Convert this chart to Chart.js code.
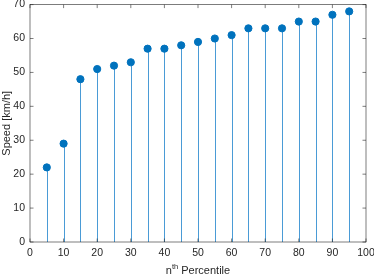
<!DOCTYPE html>
<html>
<head>
<meta charset="utf-8">
<script src="https://cdn.jsdelivr.net/npm/chart.js@4"></script>
<style>
  html, body { margin: 0; padding: 0; background: #fff; }
  #wrap { width: 374px; height: 275px; }
</style>
</head>
<body>
<div id="wrap"><canvas id="stem-chart"></canvas></div>
<script>
const percentiles = [5, 10, 15, 20, 25, 30, 35, 40, 45, 50,
    55, 60, 65, 70, 75, 80, 85, 90, 95];
const speeds = [22, 29, 48, 51, 52, 53, 57, 57, 58, 59,
    60, 61, 63, 63, 63, 65, 65, 67, 68];
const xTicks = [0, 10, 20, 30, 40, 50, 60, 70, 80, 90, 100];
const yTicks = [0, 10, 20, 30, 40, 50, 60, 70];

const blue = '#0072BD';
const stemColor = '#4a9bd6';
const axisColor = '#262626';
const fontFamily = '"Liberation Sans", Arial, Helvetica, sans-serif';

// stems, box and inward ticks (matlab look)
const stemPlot = {
    id: 'stemPlot',
    beforeDatasetsDraw(chart) {
        const ctx = chart.ctx;
        const xs = chart.scales.x, ys = chart.scales.y;
        ctx.save();
        ctx.strokeStyle = stemColor;
        ctx.lineWidth = 1;
        percentiles.forEach((p, i) => {
            const px = Math.round(xs.getPixelForValue(p)) + 0.5;
            ctx.beginPath();
            ctx.moveTo(px, ys.getPixelForValue(0));
            ctx.lineTo(px, ys.getPixelForValue(speeds[i]));
            ctx.stroke();
        });
        ctx.restore();
    },
    afterDraw(chart) {
        const ctx = chart.ctx;
        const a = chart.chartArea;
        const xs = chart.scales.x, ys = chart.scales.y;
        const t = 3.5;
        ctx.save();
        ctx.strokeStyle = axisColor;
        ctx.lineWidth = 0.6;
        ctx.strokeRect(a.left, a.top, a.right - a.left, a.bottom - a.top);
        ctx.beginPath();
        xTicks.forEach(v => {
            const px = xs.getPixelForValue(v);
            ctx.moveTo(px, a.bottom); ctx.lineTo(px, a.bottom - t);
            ctx.moveTo(px, a.top); ctx.lineTo(px, a.top + t);
        });
        yTicks.forEach(v => {
            const py = ys.getPixelForValue(v);
            ctx.moveTo(a.left, py); ctx.lineTo(a.left + t, py);
            ctx.moveTo(a.right, py); ctx.lineTo(a.right - t, py);
        });
        ctx.stroke();

        // x title with superscript
        ctx.fillStyle = axisColor;
        ctx.textBaseline = 'alphabetic';
        ctx.font = '11px ' + fontFamily;
        const main1 = 'n', main2 = ' Percentile';
        const w1 = ctx.measureText(main1).width;
        const w3 = ctx.measureText(main2).width;
        ctx.font = '7.5px ' + fontFamily;
        const sup = 'th';
        const w2 = ctx.measureText(sup).width;
        const total = w1 + w2 + w3;
        const cx = (a.left + a.right) / 2;
        let x0 = cx - total / 2;
        const base = 274;
        ctx.font = '11px ' + fontFamily;
        ctx.fillText(main1, x0, base);
        ctx.font = '7.5px ' + fontFamily;
        ctx.fillText(sup, x0 + w1, base - 5);
        ctx.font = '11px ' + fontFamily;
        ctx.fillText(main2, x0 + w1 + w2, base);
        ctx.restore();
    }
};

const datos = {
    datasets: [{
        label: 'Speed',
        data: percentiles.map((p, i) => ({ x: p, y: speeds[i] })),
        backgroundColor: blue,
        borderColor: blue,
        pointRadius: 3.6,
        pointHoverRadius: 3.6,
        showLine: false
    }]
};

const opciones = {
    responsive: true,
    maintainAspectRatio: false,
    animation: false,
    events: [],
    layout: { padding: { left: 0, right: 8, top: 3.5, bottom: 0 } },
    plugins: {
        legend: { display: false },
        tooltip: { enabled: false }
    },
    scales: {
        x: {
            type: 'linear',
            min: 0, max: 100,
            afterBuildTicks: (s) => { s.ticks = xTicks.map(v => ({ value: v })); },
            afterFit: (s) => { s.height = 33; s.paddingLeft = 0; s.paddingRight = 0; },
            grid: { display: false, drawTicks: false },
            border: { display: false },
            ticks: {
                color: axisColor,
                padding: 5,
                maxRotation: 0,
                font: { family: fontFamily, size: 10.5 }
            }
        },
        y: {
            type: 'linear',
            min: 0, max: 70,
            afterBuildTicks: (s) => { s.ticks = yTicks.map(v => ({ value: v })); },
            afterFit: (s) => { s.width = 30; s.paddingTop = 0; s.paddingBottom = 0; },
            grid: { display: false, drawTicks: false },
            border: { display: false },
            ticks: {
                color: axisColor,
                padding: 5,
                font: { family: fontFamily, size: 10.5 }
            },
            title: {
                display: true,
                text: 'Speed [km/h]',
                color: axisColor,
                padding: { top: 0, bottom: 0 },
                font: { family: fontFamily, size: 11 }
            }
        }
    }
};

new Chart(document.getElementById('stem-chart'), {
    type: 'scatter',
    data: datos,
    options: opciones,
    plugins: [stemPlot]
});
</script>
</body>
</html>
